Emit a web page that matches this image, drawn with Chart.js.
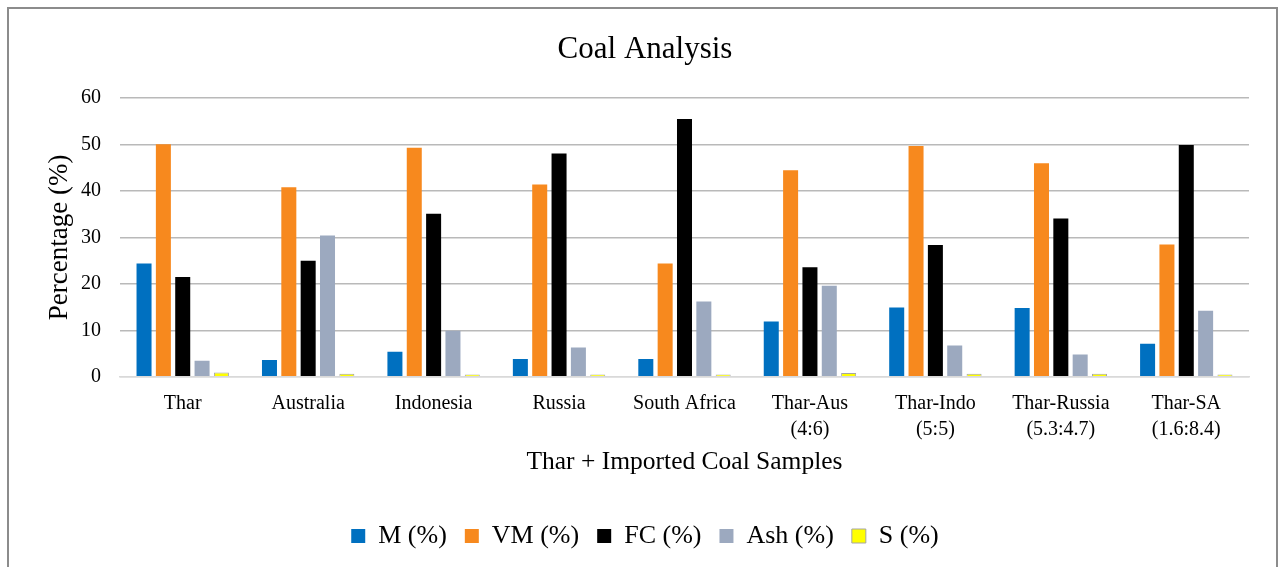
<!DOCTYPE html>
<html>
<head>
<meta charset="utf-8">
<script src="https://cdn.jsdelivr.net/npm/chart.js@4/dist/chart.umd.min.js"></script>
<style>
  html, body { margin: 0; padding: 0; background: #fff; }
  #wrap { width: 1279px; height: 567px; position: relative; }
</style>
</head>
<body>
<div id="wrap"><canvas id="chart" width="1279" height="567"></canvas></div>
<script>
// Coal samples (single sources and Thar blends)
const categories = [
  'Thar', 'Australia', 'Indonesia', 'Russia', 'South Africa',
  ['Thar-Aus', '(4:6)'], ['Thar-Indo', '(5:5)'], ['Thar-Russia', '(5.3:4.7)'], ['Thar-SA', '(1.6:8.4)']
];

// Proximate analysis, percent by weight
const moisture       = [24.4, 3.6, 5.4, 3.8, 3.8, 11.9, 14.9, 14.8, 7.1];
const volatileMatter = [50.1, 40.8, 49.3, 41.4, 24.4, 44.5, 49.7, 46.0, 28.5];
const fixedCarbon    = [21.5, 25.0, 35.1, 48.1, 55.5, 23.6, 28.4, 34.1, 49.9];
const ash            = [3.45, 30.4, 9.9, 6.3, 16.2, 19.6, 6.7, 4.8, 14.2];
const sulphur        = [0.9, 0.65, 0.5, 0.45, 0.45, 0.8, 0.65, 0.65, 0.5];

const seriesNames = ['M (%)', 'VM (%)', 'FC (%)', 'Ash (%)', 'S (%)'];

const yMin = 0, yMax = 60, yStep = 10;

const serif = "'Liberation Serif', 'Times New Roman', serif";

// Outer frame around the chart
const framePlugin = {
  id: 'frame',
  beforeDraw(chart) {
    const ctx = chart.ctx;
    ctx.save();
    ctx.strokeStyle = '#8c8c8c';
    ctx.lineWidth = 2;
    ctx.strokeRect(8, 8, 1269, 600);
    ctx.restore();
  }
};

new Chart(document.getElementById('chart'), {
  type: 'bar',
  data: {
    labels: categories,
    datasets: [
      { label: seriesNames[0], data: moisture, backgroundColor: '#0070C0' },
      { label: seriesNames[1], data: volatileMatter, backgroundColor: '#F7891E' },
      { label: seriesNames[2], data: fixedCarbon, backgroundColor: '#000000' },
      { label: seriesNames[3], data: ash, backgroundColor: '#9CA9BF' },
      { label: seriesNames[4], data: sulphur, backgroundColor: '#FFFF00', borderColor: '#A5A5A5', borderWidth: 1 }
    ]
  },
  options: {
    responsive: false,
    animation: false,
    categoryPercentage: 0.771,
    barPercentage: 0.776,
    layout: { padding: { left: 41, right: 30, top: 0, bottom: 8 } },
    plugins: {
      title: {
        display: true,
        text: 'Coal Analysis',
        color: '#000',
        font: { family: serif, size: 31, weight: 'normal' },
        padding: { top: 31, bottom: 30 }
      },
      legend: {
        position: 'bottom',
        labels: {
          color: '#000',
          font: { family: serif, size: 26 },
          boxWidth: 14,
          boxHeight: 14,
          padding: 18
        }
      },
      tooltip: { enabled: false }
    },
    scales: {
      x: {
        grid: { display: false },
        border: { display: true, color: '#D9D9D9', width: 1.5 },
        ticks: {
          color: '#000',
          font: { family: serif, size: 20, lineHeight: 1.3 },
          padding: 6,
          maxRotation: 0,
          autoSkip: false
        },
        title: {
          display: true,
          text: 'Thar + Imported Coal Samples',
          color: '#000',
          font: { family: serif, size: 25.5, lineHeight: 0.6 },
          padding: { top: 6, bottom: 35 }
        }
      },
      y: {
        min: yMin,
        max: yMax,
        afterFit(scale) { scale.width = 79; },
        border: { display: false },
        grid: {
          drawTicks: false,
          lineWidth: 1.5,
          color: (c) => (c.tick && c.tick.value === 0 ? '#D9D9D9' : '#B9B9B9')
        },
        ticks: {
          stepSize: yStep,
          color: '#000',
          font: { family: serif, size: 20 },
          padding: 19
        },
        title: {
          display: true,
          text: 'Percentage (%)',
          color: '#000',
          font: { family: serif, size: 27 },
          padding: { top: 3, bottom: 0 }
        }
      }
    }
  },
  plugins: [framePlugin]
});
</script>
</body>
</html>
